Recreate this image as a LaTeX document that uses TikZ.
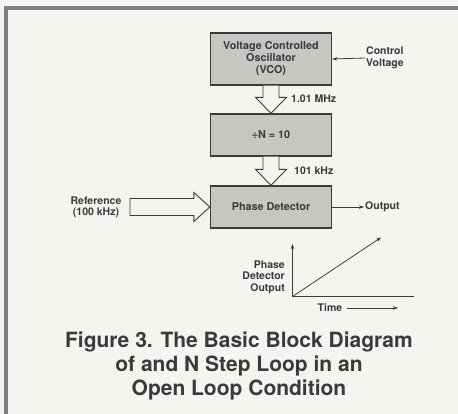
\documentclass[tikz,border=0pt]{standalone}
\usepackage{fontspec}
\setmainfont{TeX Gyre Heros}
\usetikzlibrary{positioning, arrows.meta, calc}
\definecolor{pagebg}{HTML}{F4F4F1}
\definecolor{boxgray}{HTML}{C6C6C3}
\definecolor{inkgray}{HTML}{3A3A3A}
\definecolor{framegray}{HTML}{808080}

\tikzset{
  block/.style={draw=inkgray, line width=1.3pt, fill=boxgray, minimum width=121pt,
    text=inkgray, font=\fontsize{10.8}{12}\selectfont\bfseries, align=center},
  lbl/.style={text=inkgray, font=\fontsize{10.5}{11.5}\selectfont\bfseries, inner sep=1pt},
  thinarrow/.style={draw=inkgray, line width=0.8pt, -{Stealth[length=5pt,width=3.5pt]}},
  hollow/.style={draw=inkgray, line width=0.9pt, fill=pagebg, line join=miter},
}

\begin{document}
\begin{tikzpicture}[x=1pt, y=-1pt]
    % page and frame
    \fill[pagebg] (0,0) rectangle (458,414);
    \useasboundingbox (0,0) rectangle (458,414);
    \draw[framegray, line width=4pt] (5.5,414) -- (5.5,8.5) -- (458,8.5);

    % blocks
    \node[block, minimum height=52pt] (vco) at (271,59)
      {Voltage Controlled\\Oscillator\\(VCO)};
    \node[block, minimum height=42pt] (divn) at (271,135) {÷N = 10};
    \node[block, minimum height=42pt] (phdet) at (271,207) {Phase Detector};

    % control voltage
    \node[lbl, anchor=west, align=left] (ctrl) at (365,58) {Control\\Voltage};
    \draw[thinarrow] (ctrl.west) -- (vco.east);

    % hollow arrows between blocks
    \draw[hollow] ($(vco.south)+(-8,0)$) -- ($(divn.north)+(-8,-16)$)
      -- ($(divn.north)+(-15.5,-16)$) -- (divn.north)
      -- ($(divn.north)+(15.5,-16)$) -- ($(divn.north)+(8,-16)$)
      -- ($(vco.south)+(8,0)$);
    \node[lbl, anchor=west] (mhz) at (290,99) {1.01 MHz};

    \draw[hollow] ($(divn.south)+(-8,0)$) -- ($(phdet.north)+(-8,-16)$)
      -- ($(phdet.north)+(-15.5,-16)$) -- (phdet.north)
      -- ($(phdet.north)+(15.5,-16)$) -- ($(phdet.north)+(8,-16)$)
      -- ($(divn.south)+(8,0)$);
    \node[lbl, anchor=west] (khz) at (293,171) {101 kHz};

    % reference input
    \node[lbl, align=center] (ref) at (96,207) {Reference\\(100 kHz)};
    \coordinate (reftail) at (130,207);
    \draw[hollow] ($(reftail)+(0,-8.5)$) -- ($(phdet.west)+(-16,-8.5)$)
      -- ($(phdet.west)+(-16,-14.5)$) -- (phdet.west)
      -- ($(phdet.west)+(-16,14.5)$) -- ($(phdet.west)+(-16,8.5)$)
      -- ($(reftail)+(0,8.5)$) -- cycle;

    % output
    \node[lbl, anchor=west] (out) at (364,207) {Output};
    \draw[thinarrow] (phdet.east) -- (out.west);

    % small ramp graph
    \coordinate (org) at (292.5,296.5);
    \coordinate (ytop) at (292.5,244);
    \coordinate (xend) at (414,296.5);
    \coordinate (ramp) at (381,237.5);
    \draw[thinarrow] (org) -- (ytop);
    \draw[inkgray, line width=0.8pt] (org) -- (xend);
    \draw[thinarrow] (org) -- (ramp);
    \node[lbl, anchor=east, align=right] (pdout) at (286,277)
      {Phase\\Detector\\Output};
    \node[lbl] (time) at (330,308) {Time};
    \coordinate (timeend) at (398,308);
    \draw[thinarrow] ($(time.east)+(4,0)$) -- (timeend);

    % caption
    \node[text=inkgray, font=\fontsize{21}{24}\selectfont\bfseries, align=center]
      (caption) at (239,366)
      {Figure 3. The Basic Block Diagram\\of and N Step Loop in an\\Open Loop Condition};
  \end{tikzpicture}
\end{document}
